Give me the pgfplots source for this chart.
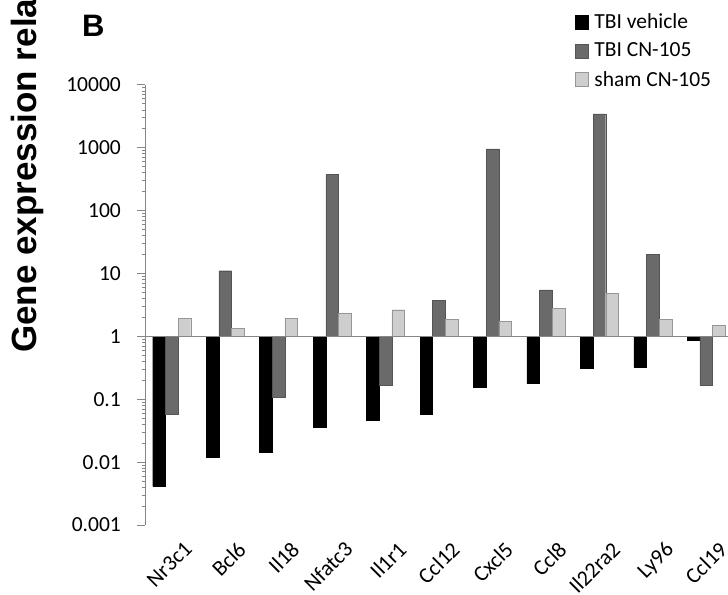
\documentclass[border=0pt]{standalone}
\usepackage{pgfplots}
\pgfplotsset{compat=1.18}
\usepackage{fontspec}
\setmainfont{Carlito}
\newfontfamily\arialfont{Liberation Sans}

\definecolor{cnbar}{RGB}{106,106,106}
\definecolor{shambar}{RGB}{206,206,206}
\definecolor{shamedge}{RGB}{150,150,150}
\definecolor{axisgray}{RGB}{134,134,134}

\begin{document}
\begin{tikzpicture}
\path[use as bounding box, clip] (0bp,0bp) rectangle (728bp,595bp);
\begin{axis}[
  at={(145bp,70bp)}, anchor=south west,
  scale only axis, width=588bp, height=440bp,
  ymode=log, log origin y=0,
  ymin=0.001, ymax=10000,
  xmin=-0.5, xmax=10.5,
  ybar=0pt, bar width=0.237,
  axis x line*=bottom, axis y line*=left,
  x axis line style={draw=none},
  y axis line style={axisgray, line width=1bp, -},
  xtick={0,...,10},
  xticklabels={Nr3c1,Bcl6,Il18,Nfatc3,Il1r1,Ccl12,Cxcl5,Ccl8,Il22ra2,Ly96,Ccl19},
  xtick style={draw=none},
  xticklabel style={rotate=45, anchor=north east, inner sep=0bp, xshift=3bp, yshift=-13bp,
    font=\fontsize{22bp}{26bp}\selectfont},
  ytick={0.001,0.01,0.1,1,10,100,1000,10000},
  yticklabels={0.001,0.01,0.1,1,10,100,1000,10000},
  minor ytick={},
  ytick style={axisgray, line width=1bp},
  tick align=outside, major tick length=8bp,
  yticklabel style={inner sep=0bp, xshift=-16bp, font=\fontsize{21.5bp}{26bp}\selectfont},
  legend style={at={(0.731,1.165)}, anchor=north west, draw=none, fill=none,
    font=\fontsize{21.5bp}{26bp}\selectfont, row sep=11bp, column sep=5bp, inner sep=0bp,
    nodes={inner sep=1bp}},
  legend cell align=left,
  legend image code/.code={\fill[#1] (0bp,-7bp) rectangle (13bp,7bp);},
  clip=false,
]
\addplot[fill=black, draw=black] coordinates {
  (0,0.0041) (1,0.012) (2,0.0144) (3,0.0355) (4,0.046) (5,0.057)
  (6,0.153) (7,0.178) (8,0.31) (9,0.325) (10,0.885)};
\addplot[fill=cnbar, draw=cnbar!80!black] coordinates {
  (0,0.057) (1,11.1) (2,0.107) (3,376) (4,0.165) (5,3.78)
  (6,960) (7,5.5) (8,3470) (9,20) (10,0.168)};
\addplot[fill=shambar, draw=shamedge] coordinates {
  (0,1.95) (1,1.34) (2,1.95) (3,2.35) (4,2.66) (5,1.88)
  (6,1.73) (7,2.79) (8,4.9) (9,1.88) (10,1.5)};
\legend{TBI vehicle, TBI CN-105, sham CN-105}
% reference line at a ratio of 1
\draw[axisgray, line width=1bp] (axis cs:-0.5,1) -- (axis cs:10.5,1);
\end{axis}
% panel letter and axis title
\node[anchor=base west, inner sep=0pt, font=\arialfont\bfseries\fontsize{31bp}{36bp}\selectfont]
  at (82bp,558bp) {B};
\node[rotate=90, anchor=base west, inner sep=0pt, font=\arialfont\bfseries\fontsize{35bp}{40bp}\selectfont]
  at (36bp,242bp) {Gene expression relative to control};
\end{tikzpicture}
\end{document}
